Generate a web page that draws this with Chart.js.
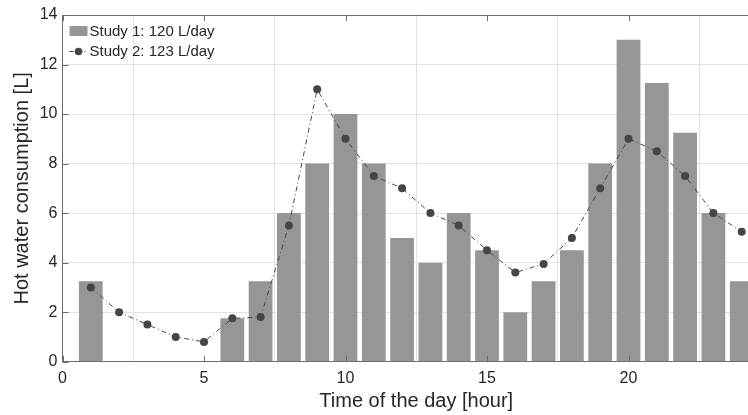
<!DOCTYPE html>
<html>
<head>
<meta charset="utf-8">
<script src="https://cdn.jsdelivr.net/npm/chart.js@4/dist/chart.umd.min.js"></script>
<style>
  html, body { margin: 0; padding: 0; background: #fff; overflow: hidden; }
  #wrap { width: 748px; height: 415px; position: relative; overflow: hidden; }
</style>
</head>
<body>
<div id="wrap"><canvas id="c" width="774" height="415"></canvas></div>
<script>
// ---- data ----
const hours = [1,2,3,4,5,6,7,8,9,10,11,12,13,14,15,16,17,18,19,20,21,22,23,24];
const study1 = [3.25,0,0,0,0,1.75,3.25,6,8,10,8,5,4,6,4.5,2,3.25,4.5,8,13,11.25,9.25,6,3.25];
const study2 = [3,2,1.5,1,0.8,1.75,1.8,5.5,11,9,7.5,7,6,5.5,4.5,3.6,3.95,5,7,9,8.5,7.5,6,5.25];
const seriesLabels = ['Study 1: 120 L/day', 'Study 2: 123 L/day'];
const xTicks = [0, 5, 10, 15, 20, 25];
const yTicks = [0, 2, 4, 6, 8, 10, 12, 14];
const xTitle = 'Time of the day [hour]';
const yTitle = 'Hot water consumption [L]';

const FONT = "'Liberation Sans', Arial, Helvetica, sans-serif";
const TXT = '#262626';
const AXIS = '#6b6b6b';
const GRID = '#e2e2e2';
const BAR = '#969696';
const LINE = '#454545';

const tickPlugin = {
  id: 'matlabAxes',
  afterDatasetsDraw(chart) {
    const ctx = chart.ctx;
    const a = chart.chartArea;
    const xs = chart.scales.x, ys = chart.scales.y;
    ctx.save();
    ctx.strokeStyle = AXIS;
    ctx.lineWidth = 1;
    // top border
    ctx.beginPath();
    ctx.moveTo(a.left, a.top + 0.5);
    ctx.lineTo(a.right, a.top + 0.5);
    ctx.stroke();
    // inward ticks
    ctx.beginPath();
    xs.ticks.forEach(t => {
      const px = Math.round(xs.getPixelForValue(t.value)) + 0.5;
      ctx.moveTo(px, a.bottom); ctx.lineTo(px, a.bottom - 6);
      ctx.moveTo(px, a.top); ctx.lineTo(px, a.top + 6);
    });
    ys.ticks.forEach(t => {
      const py = Math.round(ys.getPixelForValue(t.value)) + 0.5;
      ctx.moveTo(a.left, py); ctx.lineTo(a.left + 6, py);
    });
    ctx.stroke();
    // legend
    const ds = chart.data.datasets;
    const barDs = ds.find(d => d.type === 'bar');
    const lineDs = ds.find(d => d.type === 'line');
    const lx = a.left + 7, ly1 = a.top + 16, ly2 = a.top + 36;
    ctx.fillStyle = BAR;
    ctx.fillRect(lx, ly1 - 5, 18, 10);
    ctx.strokeStyle = LINE;
    ctx.setLineDash([4, 2, 1, 2]);
    ctx.beginPath();
    ctx.moveTo(lx, ly2 + 0.5); ctx.lineTo(lx + 18, ly2 + 0.5);
    ctx.stroke();
    ctx.setLineDash([]);
    ctx.fillStyle = LINE;
    ctx.beginPath();
    ctx.arc(lx + 9, ly2 + 0.5, 3.8, 0, Math.PI * 2);
    ctx.fill();
    ctx.fillStyle = TXT;
    ctx.font = '15px ' + FONT;
    ctx.textBaseline = 'middle';
    ctx.textAlign = 'left';
    ctx.fillText(barDs.label, lx + 20, ly1 + 1);
    ctx.fillText(lineDs.label, lx + 20, ly2 + 1);
    ctx.restore();
  }
};

new Chart(document.getElementById('c'), {
  type: 'bar',
  data: {
    datasets: [
      {
        type: 'line',
        label: seriesLabels[1],
        data: hours.map((h, i) => ({ x: h, y: study2[i] })),
        borderColor: LINE,
        borderWidth: 1,
        borderDash: [5, 3, 1, 3],
        pointRadius: 4,
        pointBackgroundColor: LINE,
        pointBorderColor: LINE,
        pointBorderWidth: 0,
        tension: 0,
        order: 0
      },
      {
        type: 'bar',
        label: seriesLabels[0],
        data: hours.map((h, i) => ({ x: h, y: study1[i] })),
        backgroundColor: BAR,
        borderWidth: 0,
        barPercentage: 0.84,
        categoryPercentage: 1,
        order: 1
      }
    ]
  },
  options: {
    responsive: false,
    animation: false,
    devicePixelRatio: 1,
    layout: { padding: { left: 0, right: 0, top: 15, bottom: 0 } },
    plugins: { legend: { display: false }, tooltip: { enabled: false } },
    scales: {
      x: {
        type: 'linear',
        offset: false,
        min: xTicks[0],
        max: xTicks[xTicks.length - 1],
        afterBuildTicks: s => { s.ticks = xTicks.map(v => ({ value: v })); },
        afterFit: s => { s.height = 53.3; s.paddingRight = 0; s.paddingLeft = 0; },
        grid: { color: GRID, drawTicks: false, lineWidth: 1 },
        border: { color: AXIS, width: 1 },
        ticks: { color: TXT, padding: 7, font: { family: FONT, size: 16 } },
        title: { display: true, text: xTitle, color: TXT, font: { family: FONT, size: 20 }, padding: { top: 0, bottom: 2 } }
      },
      y: {
        min: yTicks[0],
        max: yTicks[yTicks.length - 1],
        afterBuildTicks: s => { s.ticks = yTicks.map(v => ({ value: v })); },
        afterFit: s => { s.width = 62.5; },
        grid: { color: GRID, drawTicks: false, lineWidth: 1 },
        border: { color: AXIS, width: 1 },
        ticks: { color: TXT, padding: 5, font: { family: FONT, size: 16 } },
        title: { display: true, text: yTitle, color: TXT, font: { family: FONT, size: 20 }, padding: { top: 10, bottom: 0 } }
      }
    }
  },
  plugins: [tickPlugin]
});
</script>
</body>
</html>
